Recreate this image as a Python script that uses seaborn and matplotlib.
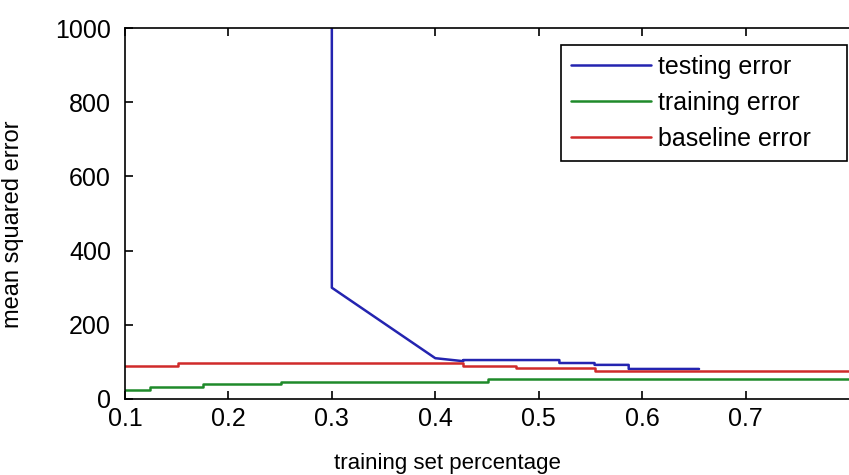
import numpy as np
import pandas as pd
import matplotlib
matplotlib.use('Agg')
import matplotlib.pyplot as plt
import seaborn as sns

# values (repeated x = vertical jump)
test_x = [0.300, 0.300, 0.400, 0.427, 0.427, 0.520, 0.520, 0.554, 0.554, 0.587, 0.587, 0.655]
test_y = [5000, 300, 110, 102, 105, 105, 97, 97, 92, 92, 81, 81]

train_x = [0.100, 0.124, 0.124, 0.175, 0.175, 0.251, 0.251, 0.451, 0.451, 0.800]
train_y = [24, 24, 31, 31, 40, 40, 47, 47, 54, 54]

base_x = [0.100, 0.151, 0.151, 0.427, 0.427, 0.478, 0.478, 0.554, 0.554, 0.800]
base_y = [90, 90, 98, 98, 89, 89, 83, 83, 75, 75]

series = {
    'testing error': (test_x, test_y, '#2424b0'),
    'training error': (train_x, train_y, '#1f8a2a'),
    'baseline error': (base_x, base_y, '#d02a2a'),
}

sns.set_style('ticks')
plt.rcParams['font.family'] = ['Liberation Sans', 'DejaVu Sans']
plt.rcParams['text.color'] = 'black'
plt.rcParams['axes.labelcolor'] = 'black'

fig = plt.figure(figsize=(8.49, 4.75), dpi=100)
ax = fig.add_axes([0.1472, 0.16, 0.8528, 0.781])

for name, (xs, ys, col) in series.items():
    df = pd.DataFrame({'x': xs, 'y': ys})
    sns.lineplot(data=df, x='x', y='y', ax=ax, color=col, lw=1.8,
                 estimator=None, sort=False, label=name)

ax.set_xlim(0.1, 0.8)
ax.set_ylim(0, 1000)
ax.set_xticks([0.1, 0.2, 0.3, 0.4, 0.5, 0.6, 0.7])
ax.set_xticklabels(['0.1', '0.2', '0.3', '0.4', '0.5', '0.6', '0.7'])
ax.set_yticks([0, 200, 400, 600, 800, 1000])

ax.tick_params(axis='both', direction='in', length=6, width=1.2, colors='black',
               labelsize=18, top=True)
ax.tick_params(axis='x', pad=6)
ax.tick_params(axis='y', pad=10)
for s in ['left', 'bottom', 'top']:
    ax.spines[s].set_color('black')
    ax.spines[s].set_linewidth(1.2)
ax.spines['right'].set_visible(False)

ax.set_xlabel('training set percentage', fontsize=16)
ax.set_ylabel('mean squared error', fontsize=17)
ax.xaxis.set_label_coords(0.446, -0.145)
ax.yaxis.set_label_coords(-0.14, 0.47)

leg = ax.legend(loc='upper left', bbox_to_anchor=(0.602, 0.644, 0.395, 0.31),
                mode='expand', borderaxespad=0, fontsize=18, handlelength=3.2,
                handletextpad=0.3, labelspacing=0.48, fancybox=False,
                framealpha=1, edgecolor='black')
leg.get_frame().set_linewidth(1.2)
for t in leg.get_texts():
    t.set_color('black')

fig.savefig('out.png', dpi=100)
